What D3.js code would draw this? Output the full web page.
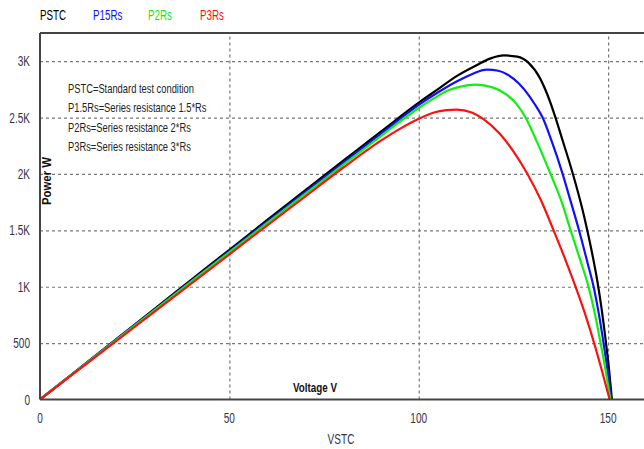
<!DOCTYPE html>
<html>
<head>
<meta charset="utf-8">
<script src="https://cdn.jsdelivr.net/npm/d3@7"></script>
<style>
  body { margin: 0; background: #fff; }
  svg { display: block; font-family: Arial, "Liberation Sans", sans-serif; }
</style>
</head>
<body>
<svg id="chart" width="644" height="449"></svg>
<script>
// P-V curves of a PV array under STC and increased series resistance
const seriesNames = ["PSTC", "P15Rs", "P2Rs", "P3Rs"];
const seriesColors = ["#000000", "#1010ff", "#10f010", "#ff1010"];

// [voltage V, power W]
const pstc = [[0,0],[10,266],[20,532],[30,798],[40,1063],[50,1328],[60,1592],[70,1855],[80,2115],[90,2375],[100,2632],[105,2750],[110,2868],[115,2960],[119,3025],[122.5,3051],[126,3040],[129,2985],[132,2850],[134,2700],[136.1,2500],[138,2295],[140,2080],[141.5,1905],[143,1715],[144.3,1530],[145.7,1310],[147.1,1060],[148.3,800],[149.3,540],[150.2,280],[151,0]];
const p15rs = [[0,0],[10,264],[20,528],[30,791],[40,1054],[50,1316],[60,1578],[70,1838],[80,2098],[90,2356],[100,2612],[105,2722],[110,2820],[114,2885],[118,2925],[121,2915],[123.5,2880],[126.5,2800],[129,2700],[130.5,2625],[132.7,2500],[135,2300],[137.9,2010],[140,1770],[142.4,1490],[144.5,1220],[146.3,980],[147.6,750],[148.7,520],[149.8,270],[150.8,0]];
const p2rs = [[0,0],[10,262],[20,524],[30,786],[40,1047],[50,1307],[60,1566],[70,1824],[80,2080],[90,2336],[100,2585],[104,2670],[107.5,2738],[111,2775],[115,2792],[119.5,2768],[123,2708],[125.8,2621],[128.2,2500],[131,2300],[134.8,2000],[137.6,1765],[140.1,1500],[142.6,1240],[144.9,990],[146.5,760],[147.9,520],[149.3,265],[150.6,0]];
const p3rs = [[0,0],[10,258],[20,516],[30,773],[40,1030],[50,1287],[60,1545],[70,1800],[80,2055],[90,2295],[95,2400],[100,2490],[104,2545],[107.3,2566],[110,2571],[114,2545],[117,2488],[121.4,2356],[124.9,2205],[128.7,2000],[132.3,1765],[135.6,1500],[138.6,1250],[141.4,1000],[144.0,750],[146.3,500],[148.4,250],[150.4,0]];
const seriesData = [pstc, p15rs, p2rs, p3rs];

const xTicks = [0, 50, 100, 150];
const xTickLabels = ["0", "50", "100", "150"];
const yTicks = [0, 500, 1000, 1500, 2000, 2500, 3000];
const yTickLabels = ["0", "500", "1K", "1.5K", "2K", "2.5K", "3K"];

const notes = [
  "PSTC=Standard test condition",
  "P1.5Rs=Series resistance 1.5*Rs",
  "P2Rs=Series resistance 2*Rs",
  "P3Rs=Series resistance 3*Rs"
];

const svg = d3.select("#chart");
const plot = { left: 40, top: 33, right: 646, bottom: 399.5 };

const x = d3.scaleLinear().domain([0, 160]).range([plot.left, plot.right]);
const y = d3.scaleLinear().domain([0, 3250]).range([plot.bottom, plot.top]);

// narrow text: horizontally compressed glyphs
function ntext(g, str, px, py, opt) {
  const o = Object.assign({ size: 14, sx: 0.72, anchor: "start", fill: "#333", weight: "normal", rotate: 0 }, opt || {});
  return g.append("text")
    .attr("transform", `translate(${px},${py}) rotate(${o.rotate}) scale(${o.sx},1)`)
    .attr("text-anchor", o.anchor)
    .attr("font-size", o.size)
    .attr("font-weight", o.weight)
    .attr("fill", o.fill)
    .text(str);
}

// grid
const gridY = svg.append("g")
  .attr("transform", `translate(${plot.left},0)`)
  .call(d3.axisLeft(y).tickValues(yTicks.slice(1)).tickSize(-(644 - plot.left)).tickFormat(""));
const gridX = svg.append("g")
  .attr("transform", `translate(0,${plot.bottom})`)
  .call(d3.axisBottom(x).tickValues(xTicks.slice(1)).tickSize(-(plot.bottom - plot.top)).tickFormat(""));
[gridY, gridX].forEach(g => {
  g.select(".domain").remove();
  g.selectAll(".tick line")
    .attr("stroke", "#777")
    .attr("stroke-width", 1.2)
    .attr("stroke-dasharray", "3,3");
});

// curves
svg.append("clipPath").attr("id", "clip")
  .append("rect").attr("x", plot.left).attr("y", plot.top)
  .attr("width", 644 - plot.left).attr("height", plot.bottom - plot.top);

const line = d3.line()
  .x(d => x(d[0]))
  .y(d => y(d[1]))
  .curve(d3.curveMonotoneX);

svg.append("g").attr("clip-path", "url(#clip)")
  .selectAll("path")
  .data(seriesData)
  .join("path")
  .attr("d", line)
  .attr("fill", "none")
  .attr("stroke", (d, i) => seriesColors[i])
  .attr("stroke-width", 2.2)
  .attr("stroke-linejoin", "round");

// frame
svg.append("line").attr("x1", plot.left).attr("x2", plot.left)
  .attr("y1", plot.top).attr("y2", plot.bottom)
  .attr("stroke", "#444").attr("stroke-width", 2);
svg.append("line").attr("x1", plot.left).attr("x2", 644)
  .attr("y1", plot.bottom).attr("y2", plot.bottom)
  .attr("stroke", "#444").attr("stroke-width", 2);
svg.append("line").attr("x1", plot.left).attr("x2", 644)
  .attr("y1", plot.top).attr("y2", plot.top)
  .attr("stroke", "#444").attr("stroke-width", 2);

// tick labels
const labels = svg.append("g");
yTicks.forEach((v, i) => ntext(labels, yTickLabels[i], 30, y(v) + 5, { anchor: "end", fill: "#35354a" }));
xTicks.forEach((v, i) => ntext(labels, xTickLabels[i], x(v), 423, { anchor: "middle", fill: "#35354a" }));

// axis titles
ntext(svg, "VSTC", 341, 444, { anchor: "middle", fill: "#35354a" });
ntext(svg, "Voltage V", 315, 392, { anchor: "middle", size: 12, sx: 0.82, weight: "bold", fill: "#111" });
ntext(svg, "Power W", 51, 181, { anchor: "middle", size: 12, sx: 0.95, weight: "bold", fill: "#111", rotate: -90 });

// legend
const legendX = [40, 93, 148, 200];
seriesNames.forEach((n, i) => ntext(svg, n, legendX[i], 20, { size: 14, sx: 0.7, fill: seriesColors[i] }));

// notes
notes.forEach((t, i) => ntext(svg, t, 68, 93 + i * 19.3, { size: 13, sx: 0.72, fill: "#222" }));
</script>
</body>
</html>
